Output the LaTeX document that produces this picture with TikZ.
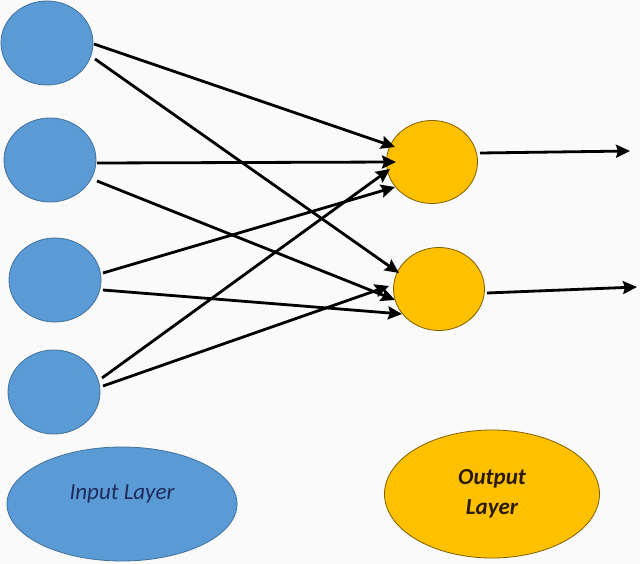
\documentclass[tikz,border=0pt]{standalone}
\usepackage{fontspec}
\setmainfont{Carlito}
\usetikzlibrary{shapes.geometric,arrows.meta,calc}
\definecolor{inblue}{HTML}{5B9BD5}
\definecolor{inborder}{HTML}{41719C}
\definecolor{outorange}{HTML}{FFC000}
\definecolor{outborder}{HTML}{7F6000}
\definecolor{navytext}{HTML}{1F2A5C}
\definecolor{outtext}{HTML}{2A1C00}
\definecolor{bgcol}{HTML}{FAFAFA}
\begin{document}
\begin{tikzpicture}[x=1pt,y=-1pt,
  inneuron/.style={ellipse, draw=inborder, fill=inblue, line width=0.8pt, inner sep=0pt,
    minimum width=92pt, minimum height=84pt},
  outneuron/.style={ellipse, draw=outborder, fill=outorange, line width=0.8pt, inner sep=0pt,
    minimum width=91pt, minimum height=83pt},
  conn/.style={line width=2.8pt, black, -{Stealth[length=14pt,width=13pt,inset=2pt]}}]
\fill[bgcol] (0,0) rectangle (640,564);
\useasboundingbox (0,0) rectangle (640,564);

% input neurons
\node[inneuron] (I1) at (47,43) {};
\node[inneuron] (I2) at (50,160) {};
\node[inneuron] (I3) at (55,280) {};
\node[inneuron] (I4) at (54,392) {};

% output neurons
\node[outneuron] (O1) at (432,162) {};
\node[outneuron] (O2) at (439,289) {};

% legend ellipses
\node[ellipse, draw=inborder, fill=inblue, line width=0.8pt, inner sep=0pt,
  minimum width=230pt, minimum height=114pt] (IL) at (122,504) {};
\node[text=navytext, font=\fontsize{23}{28}\selectfont\itshape, inner sep=0pt]
  (ILt) at ($(IL.center)+(0,-10)$) {Input Layer};
\node[ellipse, draw=outborder, fill=outorange, line width=0.8pt, inner sep=0pt,
  minimum width=215pt, minimum height=128pt, align=center, text=outtext,
  font=\fontsize{23}{30}\selectfont\bfseries\itshape] (OL) at (492,494) {Output\\Layer};

% connections
\draw[conn] ($(I1)+(47,1)$) -- ($(O1)+(-37,-15)$);
\draw[conn] ($(I1)+(48,16)$) -- ($(O2)+(-40,-16)$);
\draw[conn] ($(I2)+(47,3)$) -- ($(O1)+(-36,0)$);
\draw[conn] ($(I2)+(47,21)$) -- ($(O2)+(-44,11)$);
\draw[conn] ($(I3)+(48,-7)$) -- ($(O1)+(-37,25)$);
\draw[conn] ($(I3)+(48,10)$) -- ($(O2)+(-37,25)$);
\draw[conn] ($(I4)+(48,-14)$) -- ($(O1)+(-42,7)$);
\draw[conn] ($(I4)+(49,-6)$) -- ($(O2)+(-50,-3)$);

% outputs
\coordinate (out1) at (630,151);
\coordinate (out2) at (637,287);
\draw[conn] ($(O1)+(48,-9)$) -- (out1);
\draw[conn] ($(O2)+(48,4)$) -- (out2);
\end{tikzpicture}
\end{document}
